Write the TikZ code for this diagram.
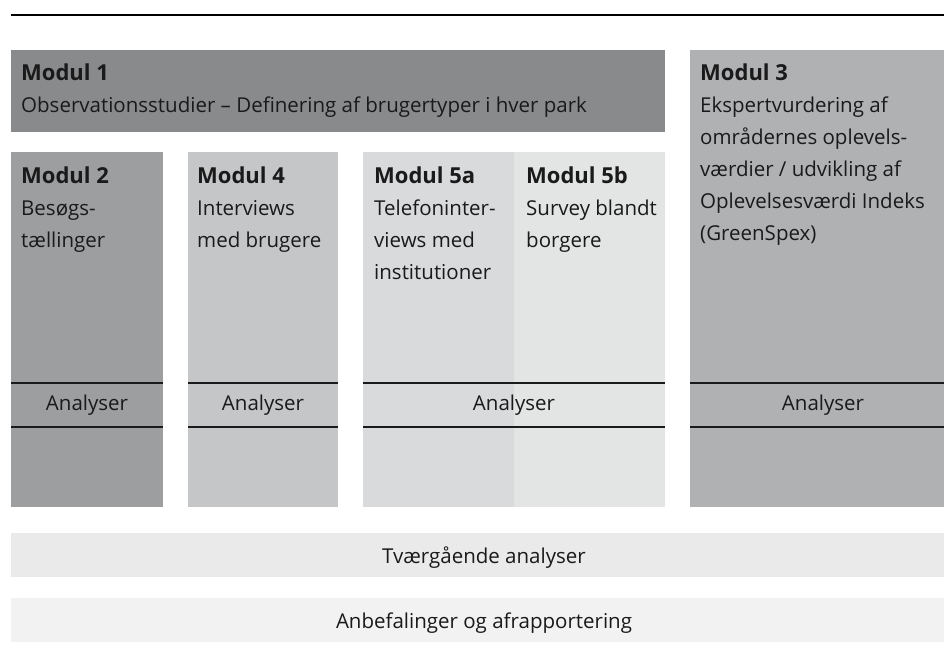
\documentclass[tikz,border=0pt]{standalone}
\usepackage{fontspec}
\setmainfont{Open Sans}
\definecolor{cA}{HTML}{898A8C}
\definecolor{cB}{HTML}{9D9EA0}
\definecolor{cC}{HTML}{C5C6C8}
\definecolor{cD}{HTML}{D9DADC}
\definecolor{cE}{HTML}{E3E4E4}
\definecolor{cF}{HTML}{B0B1B3}
\definecolor{cG}{HTML}{EAEAEA}
\definecolor{cH}{HTML}{F2F2F2}
\definecolor{ink}{HTML}{1A1A1A}
\newcommand{\modtitle}[1]{{\fontsize{22}{32}\selectfont\bfseries #1}}
\begin{document}
\begin{tikzpicture}[x=1pt,y=-1pt,
  panel/.style={draw=none,inner sep=0pt,outer sep=0pt,anchor=north west},
  label/.style={inner sep=0pt,anchor=north west,align=left,text=ink,
    font=\fontsize{20.5}{32}\selectfont},
  antext/.style={inner sep=0pt,anchor=base,text=ink,font=\fontsize{20.5}{32}\selectfont},
  anline/.style={line width=1.3pt,draw=ink},
]
\useasboundingbox (0,0) rectangle (944,655);
% top rule
\coordinate (r1) at (11,15);
\coordinate (r2) at (944,15);
\draw[line width=2.4pt] (r1) -- (r2);
% panels
\node[panel,fill=cA,minimum width=654pt,minimum height=82pt] (m1) at (11,50) {};
\node[panel,fill=cF,minimum width=254pt,minimum height=457pt] (m3) at (690,50) {};
\node[panel,fill=cB,minimum width=152pt,minimum height=355pt] (m2) at (11,152) {};
\node[panel,fill=cC,minimum width=150pt,minimum height=355pt] (m4) at (188,152) {};
\node[panel,fill=cD,minimum width=151pt,minimum height=355pt] (m5a) at (363,152) {};
\node[panel,fill=cE,minimum width=151pt,minimum height=355pt] (m5b) at (514,152) {};
\node[panel,fill=cG,minimum width=933pt,minimum height=44pt] (tv) at (11,533) {};
\node[panel,fill=cH,minimum width=933pt,minimum height=44pt] (an) at (11,598) {};
% analyser lines
\foreach \y in {383,427}{
  \draw[anline] (m2.west |- 0,\y) -- (m2.east |- 0,\y);
  \draw[anline] (m4.west |- 0,\y) -- (m4.east |- 0,\y);
  \draw[anline] (m5a.west |- 0,\y) -- (m5b.east |- 0,\y);
  \draw[anline] (m3.west |- 0,\y) -- (m3.east |- 0,\y);
}
% texts
\node[label] (t1) at (21,60) {\rule{0pt}{20pt}\modtitle{Modul 1}\\Observationsstudier – Definering af brugertyper i hver park};
\node[label] (t3) at (700,60) {\rule{0pt}{20pt}\modtitle{Modul 3}\\Ekspertvurdering af\\områdernes oplevels-\\værdier / udvikling af\\Oplevelsesværdi Indeks\\(GreenSpex)};
\node[label] (t2) at (21,163) {\rule{0pt}{20pt}\modtitle{Modul 2}\\Besøgs-\\tællinger};
\node[label] (t4) at (197,163) {\rule{0pt}{20pt}\modtitle{Modul 4}\\Interviews\\med brugere};
\node[label] (t5a) at (374,163) {\rule{0pt}{20pt}\modtitle{Modul 5a}\\Telefoninter-\\views med\\institutioner};
\node[label] (t5b) at (526,163) {\rule{0pt}{20pt}\modtitle{Modul 5b}\\Survey blandt\\borgere};
\node[antext] (a2) at (87,410) {Analyser};
\node[antext] (a4) at (263,410) {Analyser};
\node[antext] (a5) at (514,410) {Analyser};
\node[antext] (a3) at (823,410) {Analyser};
\node[antext] (tt) at (484,563) {Tværgående analyser};
\node[antext] (at) at (484,628) {Anbefalinger og afrapportering};
\end{tikzpicture}
\end{document}
